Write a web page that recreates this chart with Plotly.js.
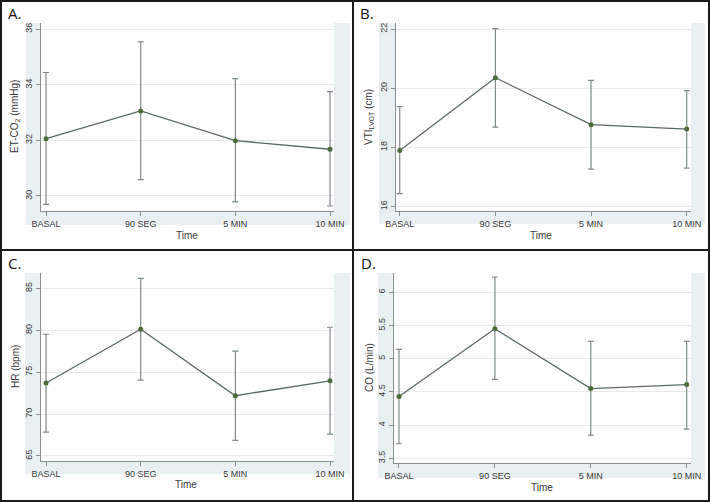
<!DOCTYPE html>
<html>
<head>
<meta charset="utf-8">
<script src="https://cdn.plot.ly/plotly-3.0.1.min.js"></script>
<style>html,body{margin:0;padding:0;background:#fff;}#chart{width:710px;height:502px;}</style>
</head>
<body>
<div id="chart"></div>
<script>
// ---- data ----
const timepoints = ["BASAL", "90 SEG", "5 MIN", "10 MIN"];

const etco2Mean  = [32.06, 33.06, 31.99, 31.68];
const etco2Upper = [34.44, 35.54, 34.22, 33.75];
const etco2Lower = [29.70, 30.59, 29.79, 29.64];

const vtiMean  = [17.90, 20.36, 18.77, 18.62];
const vtiUpper = [19.38, 22.02, 20.27, 19.92];
const vtiLower = [16.44, 18.69, 17.27, 17.30];

const hrMean  = [73.70, 80.12, 72.19, 73.97];
const hrUpper = [79.52, 86.19, 77.50, 80.36];
const hrLower = [67.85, 74.06, 66.86, 67.61];

const coMean  = [4.43, 5.45, 4.55, 4.61];
const coUpper = [5.14, 6.23, 5.26, 5.26];
const coLower = [3.72, 4.69, 3.85, 3.94];

const panelLabels = ["A.", "B.", "C.", "D."];
const yTitles = ["ET-CO<sub>2</sub> (mmHg)", "VTI<sub>LVOT</sub> (cm)", "HR (bpm)", "CO (L/min)"];
const xTitle = "Time";

// ---- layout helpers ----
const W = 710, H = 502;
const px = x => x / W;
const py = y => 1 - y / H;

const LINE = "#5a6868";
const MARK = "#4c6b36";
const ERR = "#7f8b8b";
const LIGHT = "#e9f0f1";
const TXT = "#3a3a3a";

function trace(mean, up, lo, n) {
  return {
    type: "scatter", mode: "lines+markers",
    x: timepoints, y: mean,
    xaxis: "x" + (n === 1 ? "" : n), yaxis: "y" + (n === 1 ? "" : n),
    line: {color: LINE, width: 1.3},
    marker: {color: MARK, size: 5},
    error_y: {
      type: "data", symmetric: false,
      array: up.map((u, i) => u - mean[i]),
      arrayminus: lo.map((l, i) => mean[i] - l),
      color: ERR, thickness: 1.2, width: 3
    },
    showlegend: false, hoverinfo: "skip"
  };
}

const data = [
  trace(etco2Mean, etco2Upper, etco2Lower, 1),
  trace(vtiMean, vtiUpper, vtiLower, 2),
  trace(hrMean, hrUpper, hrLower, 3),
  trace(coMean, coUpper, coLower, 4)
];

function xax(d0, d1, r0, r1, anchor) {
  return {
    domain: [px(d0), px(d1)], anchor: anchor, type: "category",
    range: [r0, r1], showgrid: false, zeroline: false,
    showline: true, linecolor: "#8a8f8f", linewidth: 1,
    ticks: "outside", ticklen: 4, tickcolor: "#8a8f8f",
    tickfont: {family: "Liberation Sans, Arial, sans-serif", size: 9, color: TXT},
    fixedrange: true
  };
}
function yax(t0, t1, r0, r1, dtick, tick0, anchor) {
  return {
    domain: [py(t1), py(t0)], anchor: anchor,
    range: [r0, r1], dtick: dtick, tick0: tick0,
    showgrid: true, gridcolor: "#e6eaea", gridwidth: 1, zeroline: false,
    showline: true, linecolor: "#8a8f8f", linewidth: 1,
    ticks: "outside", ticklen: 4, tickcolor: "#8a8f8f", tickangle: -90,
    tickfont: {family: "Liberation Sans, Arial, sans-serif", size: 9, color: TXT},
    fixedrange: true
  };
}

const shapes = [];
function rectPx(x0, y0, x1, y1, fill) {
  shapes.push({type: "rect", xref: "paper", yref: "paper", layer: "below",
    x0: px(x0), x1: px(x1), y0: py(y1), y1: py(y0),
    fillcolor: fill, line: {width: 0}});
}
// graph regions (light) then plot regions (white)
rectPx(26, 23, 350, 225, LIGHT);
rectPx(379, 23, 705, 224, LIGHT);
rectPx(25, 273, 350, 474, LIGHT);
rectPx(378, 273, 705, 478, LIGHT);
rectPx(41, 23, 334, 211, "#ffffff");
rectPx(396, 23, 691, 211, "#ffffff");
rectPx(41, 273, 334, 461, "#ffffff");
rectPx(394, 273, 691, 463, "#ffffff");

// borders
function linePx(x0, y0, x1, y1, w) {
  shapes.push({type: "line", xref: "paper", yref: "paper", layer: "above",
    x0: px(x0), x1: px(x1), y0: py(y0), y1: py(y1),
    line: {color: "#1a1a1a", width: w}});
}
linePx(1, 0, 1, 502, 2);
linePx(709, 0, 709, 502, 2);
linePx(0, 1, 710, 1, 2);
linePx(0, 501, 710, 501, 2);
linePx(353, 0, 353, 502, 2);
linePx(0, 250, 710, 250, 2);

const annotations = [];
function ann(text, x, y, opts) {
  annotations.push(Object.assign({text: text, xref: "paper", yref: "paper",
    x: px(x), y: py(y), showarrow: false, xanchor: "center", yanchor: "middle",
    font: {family: "Liberation Sans, Arial, sans-serif", size: 10, color: TXT}}, opts || {}));
}
// panel labels
const labelPos = [[6, 13], [358, 13], [6, 263], [359, 263]];
panelLabels.forEach((t, i) => ann(t, labelPos[i][0], labelPos[i][1],
  {xanchor: "left", font: {family: "Open Sans, Liberation Sans, sans-serif", size: 15, color: "#111"}}));
// x titles
[[187, 235], [541, 235], [186, 484], [542, 487]].forEach(p => ann(xTitle, p[0], p[1]));
// y titles
const yTitlePos = [[15, 117], [369, 117], [15, 367], [369, 368]];
yTitles.forEach((t, i) => ann(t, yTitlePos[i][0], yTitlePos[i][1], {textangle: -90}));

const layout = {
  width: W, height: H,
  margin: {l: 0, r: 0, t: 0, b: 0},
  paper_bgcolor: "#ffffff", plot_bgcolor: "#ffffff",
  showlegend: false,
  xaxis:  xax(41, 334, -0.053, 3.042, "y"),
  yaxis:  yax(23, 211, 29.46, 36.22, 2, 30, "x"),
  xaxis2: xax(396, 691, -0.039, 3.045, "y2"),
  yaxis2: yax(23, 211, 15.85, 22.21, 2, 16, "x2"),
  xaxis3: xax(41, 334, -0.053, 3.042, "y3"),
  yaxis3: yax(273, 461, 64.40, 86.83, 5, 65, "x3"),
  xaxis4: xax(394, 691, -0.052, 3.045, "y4"),
  yaxis4: yax(273, 463, 3.43, 6.29, 0.5, 3.5, "x4"),
  shapes: shapes,
  annotations: annotations
};

Plotly.newPlot("chart", data, layout, {displayModeBar: false, staticPlot: true});
</script>
</body>
</html>
